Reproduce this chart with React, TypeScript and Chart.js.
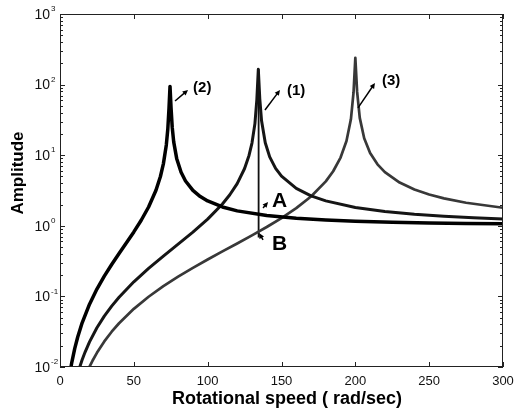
import React, { useEffect, useRef } from "react";
import { Chart, registerables } from "chart.js";

Chart.register(...registerables);

// Curve (1)
const speed1 = [13, 15, 17, 20, 25, 30, 35, 40, 50, 60, 70, 80, 90, 100, 110, 115, 120, 125, 128, 130, 132, 133.3, 134.3, 135.3, 136.5, 139, 142, 146, 150, 160, 170, 180, 200, 220, 240, 260, 280, 300];
const amp1 = [0.00946, 0.01263, 0.01628, 0.02268, 0.0359, 0.05252, 0.07287, 0.09734, 0.1609, 0.2494, 0.373, 0.55, 0.8151, 1.2443, 2.0382, 2.7486, 3.96, 6.48, 9.915, 14.87, 28.01, 61.5, 165, 62.85, 30.74, 14.99, 9.463, 6.5, 5.04, 3.384, 2.66, 2.256, 1.8212, 1.594, 1.4559, 1.3639, 1.2988, 1.2506];

// Curve (2)
const speed2 = [7, 8, 10, 12, 15, 20, 25, 30, 35, 40, 45, 50, 55, 60, 65, 68, 70, 72, 73, 73.8, 74.5, 75.2, 76, 77, 79, 82, 85, 90, 95, 100, 110, 120, 140, 160, 180, 200, 225, 250, 275, 300];
const amp2 = [0.00891, 0.01167, 0.01835, 0.02664, 0.04225, 0.07767, 0.1269, 0.1935, 0.2832, 0.405, 0.5744, 0.8195, 1.198, 1.846, 3.188, 4.992, 7.536, 13.99, 23.31, 45.7, 94.3, 46.9, 24.73, 15.46, 9.0, 5.729, 4.314, 3.177, 2.597, 2.247, 1.847, 1.627, 1.395, 1.277, 1.2067, 1.1611, 1.1231, 1.0975, 1.0792, 1.0657];

// Curve (3)
const speed3 = [19, 20, 22, 25, 30, 35, 40, 50, 60, 70, 80, 90, 100, 110, 120, 130, 140, 150, 160, 170, 180, 185, 190, 194, 197, 198.8, 200, 201.2, 203, 206, 210, 215, 220, 230, 240, 250, 260, 275, 300];
const amp3 = [0.00911, 0.0101, 0.01225, 0.01587, 0.02302, 0.03159, 0.04167, 0.06667, 0.0989, 0.1396, 0.1905, 0.254, 0.3333, 0.4337, 0.5625, 0.7316, 0.9608, 1.2857, 1.7778, 2.6036, 4.263, 5.926, 9.256, 15.88, 32.28, 78.0, 239.8, 79.4, 33.76, 17.38, 10.756, 7.426, 5.762, 4.101, 3.273, 2.778, 2.449, 2.1228, 1.8];

// Jump line from peak of (1) down to (3)
const jumpSpeed = [134.5, 134.5];
const jumpAmp = [165, 0.68];

const xTicks = [0, 50, 100, 150, 200, 250, 300];
const yExponents = [-2, -1, 0, 1, 2, 3];
const yTickLabels = ["-2", "-1", "0", "1", "2", "3"];

// Annotations
const annoLabels = ["(2)", "(1)", "(3)", "A", "B"];
const annoStartX = [77.9, 138.8, 201.8, 137.5, 137.5];
const annoStartY = [58.6, 43.6, 46.7, 1.79, 0.63];
const annoEndX = [86.7, 149.0, 213.3, 140.9, 134.8];
const annoEndY = [83.9, 83.9, 105.4, 2.17, 0.79];
const annoTextX = [90.1, 153.7, 218.0, 143.6, 143.6];
const annoTextY = [92.5, 83.9, 116, 2.32, 0.57];

const FONT = "Arial, 'Liberation Sans', Helvetica, sans-serif";

function pts(xs: number[], ys: number[]) {
  return xs.map((x, i) => ({ x, y: ys[i] }));
}

function arrow(ctx: CanvasRenderingContext2D, x1: number, y1: number, x2: number, y2: number) {
  const ang = Math.atan2(y2 - y1, x2 - x1);
  const hl = 6;
  ctx.beginPath();
  ctx.moveTo(x1, y1);
  ctx.lineTo(x2 - Math.cos(ang) * 3, y2 - Math.sin(ang) * 3);
  ctx.stroke();
  ctx.beginPath();
  ctx.moveTo(x2, y2);
  ctx.lineTo(x2 - hl * Math.cos(ang - 0.45), y2 - hl * Math.sin(ang - 0.45));
  ctx.lineTo(x2 - hl * Math.cos(ang + 0.45), y2 - hl * Math.sin(ang + 0.45));
  ctx.closePath();
  ctx.fill();
}

const decorPlugin = {
  id: "decor",
  afterDraw(chart: any) {
    const ctx: CanvasRenderingContext2D = chart.ctx;
    const xs = chart.scales.x;
    const ys = chart.scales.y;
    const a = chart.chartArea;
    ctx.save();
    ctx.strokeStyle = "#222";
    ctx.fillStyle = "#111";
    ctx.lineWidth = 1;
    ctx.strokeRect(a.left + 0.5, a.top + 0.5, a.right - a.left - 1, a.bottom - a.top - 1);

    ctx.beginPath();
    yExponents.forEach((e) => {
      const py = Math.round(ys.getPixelForValue(Math.pow(10, e))) + 0.5;
      ctx.moveTo(a.left, py);
      ctx.lineTo(a.left + 5, py);
      ctx.moveTo(a.right, py);
      ctx.lineTo(a.right - 5, py);
      if (e < 3) {
        for (let m = 2; m <= 9; m++) {
          const my = Math.round(ys.getPixelForValue(m * Math.pow(10, e))) + 0.5;
          ctx.moveTo(a.left, my);
          ctx.lineTo(a.left + 3, my);
          ctx.moveTo(a.right, my);
          ctx.lineTo(a.right - 3, my);
        }
      }
    });
    xTicks.forEach((v) => {
      const px = Math.round(xs.getPixelForValue(v)) + 0.5;
      ctx.moveTo(px, a.bottom);
      ctx.lineTo(px, a.bottom - 5);
      ctx.moveTo(px, a.top);
      ctx.lineTo(px, a.top + 5);
    });
    ctx.stroke();

    yExponents.forEach((e, i) => {
      const py = ys.getPixelForValue(Math.pow(10, e));
      ctx.font = `14px ${FONT}`;
      ctx.textAlign = "right";
      ctx.textBaseline = "middle";
      ctx.fillText("10", 50, py + 1);
      ctx.font = `8px ${FONT}`;
      ctx.textAlign = "left";
      ctx.fillText(yTickLabels[i], 51, py - 5);
    });
    ctx.font = `13px ${FONT}`;
    ctx.textAlign = "center";
    ctx.textBaseline = "middle";
    xTicks.forEach((v) => {
      ctx.fillText(String(v), xs.getPixelForValue(v), 381);
    });

    ctx.font = `bold 18px ${FONT}`;
    ctx.fillStyle = "#000";
    ctx.fillText("Rotational speed ( rad/sec)", 287, 399);
    ctx.save();
    ctx.translate(18, 173);
    ctx.rotate(-Math.PI / 2);
    ctx.font = `bold 17px ${FONT}`;
    ctx.fillText("Amplitude", 0, 0);
    ctx.restore();

    ctx.lineWidth = 1.5;
    ctx.strokeStyle = "#000";
    annoLabels.forEach((lab, i) => {
      const x1 = xs.getPixelForValue(annoStartX[i]);
      const y1 = ys.getPixelForValue(annoStartY[i]);
      const x2 = xs.getPixelForValue(annoEndX[i]);
      const y2 = ys.getPixelForValue(annoEndY[i]);
      arrow(ctx, x1, y1, x2, y2);
      const big = lab.length === 1;
      ctx.font = `bold ${big ? 21 : 15}px ${FONT}`;
      ctx.textAlign = "left";
      ctx.textBaseline = "middle";
      ctx.fillText(lab, xs.getPixelForValue(annoTextX[i]), ys.getPixelForValue(annoTextY[i]) + 1);
    });
    ctx.restore();
  },
};

const bgPlugin = {
  id: "bg",
  beforeDraw(chart: any) {
    const ctx = chart.ctx;
    ctx.save();
    ctx.fillStyle = "#fff";
    ctx.fillRect(0, 0, chart.width, chart.height);
    ctx.restore();
  },
};

export default function App() {
  const ref = useRef<HTMLCanvasElement>(null);
  useEffect(() => {
    document.body.style.margin = "0";
    const chart = new Chart(ref.current!, {
      type: "scatter",
      data: {
        datasets: [
          { data: pts(speed2, amp2), showLine: true, borderColor: "#000", borderWidth: 3.5, pointRadius: 0, clip: 0, borderJoinStyle: "round" },
          { data: pts(speed1, amp1), showLine: true, borderColor: "#151515", borderWidth: 3, pointRadius: 0, clip: 0, borderJoinStyle: "round" },
          { data: pts(speed3, amp3), showLine: true, borderColor: "#383838", borderWidth: 2.7, pointRadius: 0, clip: 0, borderJoinStyle: "round" },
          { data: pts(jumpSpeed, jumpAmp), showLine: true, borderColor: "#111", borderWidth: 1.8, pointRadius: 0, clip: 0 },
        ] as any,
      },
      options: {
        responsive: false,
        animation: false,
        devicePixelRatio: 1,
        layout: { padding: { left: 60, right: 13, top: 14, bottom: 45 } },
        plugins: { legend: { display: false }, tooltip: { enabled: false } },
        events: [],
        scales: {
          x: { type: "linear", min: 0, max: 300, display: false },
          y: { type: "logarithmic", min: 0.01, max: 1000, display: false },
        },
      } as any,
      plugins: [bgPlugin, decorPlugin],
    });
    return () => chart.destroy();
  }, []);
  return <canvas ref={ref} width={516} height={412} style={{ display: "block" }} />;
}
